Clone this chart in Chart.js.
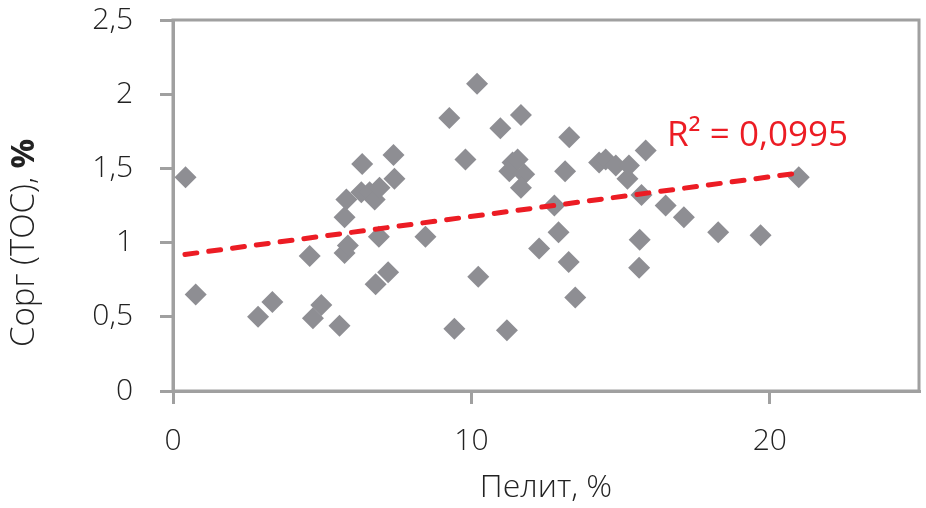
<!DOCTYPE html>
<html>
<head>
<meta charset="utf-8">
<script src="https://cdn.jsdelivr.net/npm/chart.js@4"></script>
<style>
  body { margin: 0; background: #fff; }
  canvas { display: block; }
</style>
</head>
<body>
<canvas id="chart" width="926" height="508"></canvas>
<script>
// Пелит, % (x) and Сорг (TOC), % (y)
const pelit = [
  0.42, 0.76, 2.85, 3.33, 4.58, 4.69, 4.97, 5.58, 5.75, 5.81,
  5.75, 5.86, 6.31, 6.34, 6.59, 6.76, 6.79, 6.90, 6.92, 7.21,
  7.39, 7.42, 8.46, 9.26, 9.43, 9.80, 10.19, 10.23, 10.97, 11.19,
  11.27, 11.38, 11.55, 11.66, 11.77, 11.66, 12.27, 12.78, 12.92, 13.14,
  13.26, 13.28, 13.48, 14.28, 14.50, 14.84, 15.23, 15.28, 15.62, 15.64,
  15.70, 15.84, 16.51, 17.12, 18.27, 19.69, 20.97
];
const corg = [
  1.44, 0.65, 0.50, 0.60, 0.91, 0.49, 0.58, 0.44, 1.17, 1.29,
  0.93, 0.98, 1.34, 1.53, 1.34, 1.29, 0.72, 1.04, 1.37, 0.80,
  1.59, 1.43, 1.04, 1.84, 0.42, 1.56, 2.07, 0.77, 1.77, 0.41,
  1.48, 1.54, 1.56, 1.86, 1.46, 1.37, 0.96, 1.25, 1.07, 1.48,
  0.87, 1.71, 0.63, 1.54, 1.56, 1.52, 1.43, 1.52, 0.83, 1.02,
  1.32, 1.62, 1.25, 1.17, 1.07, 1.05, 1.44
];

// linear trend line end points (as drawn in the picture)
const trendX = [0.4, 21.0];
const trendY = [0.92, 1.47];
const r2Label = "R² = 0,0995";

const yTicks = [0, 0.5, 1, 1.5, 2, 2.5];

const FONT = "'Open Sans', 'Noto Sans', sans-serif";
const GREY = "#a0a0a0";
const RED = "#ec1c24";

// frame on top and right, the R² text and the y title with bold "%"
const extras = {
  id: "extras",
  beforeDatasetsDraw(chart) {
    const { ctx, chartArea } = chart;
    ctx.save();
    ctx.strokeStyle = GREY;
    ctx.lineWidth = 3;
    ctx.strokeRect(chartArea.left, chartArea.top, chartArea.right - chartArea.left, chartArea.bottom - chartArea.top);
    ctx.restore();
  },
  afterDraw(chart) {
    const { ctx } = chart;
    ctx.save();
    ctx.fillStyle = RED;
    ctx.font = "35px " + FONT;
    ctx.textBaseline = "alphabetic";
    ctx.textAlign = "left";
    ctx.fillText(r2Label, 667, 146);

    // y title, rotated
    ctx.translate(34, 347);
    ctx.rotate(-Math.PI / 2);
    ctx.fillStyle = "#222";
    ctx.font = "300 33px " + FONT;
    const part1 = "Сорг (ТОС), ";
    ctx.fillText(part1, 0, 0);
    const w = ctx.measureText(part1).width;
    ctx.font = "bold 33px " + FONT;
    ctx.fillText("%", w, 0);
    ctx.restore();
  }
};

const points = pelit.map((x, i) => ({ x: x, y: corg[i] }));
const trend = trendX.map((x, i) => ({ x: x, y: trendY[i] }));

new Chart(document.getElementById("chart"), {
  type: "scatter",
  data: {
    datasets: [
      {
        type: "line",
        label: "trend",
        data: trend,
        borderColor: RED,
        borderWidth: 5,
        borderDash: [12, 12],
        borderCapStyle: "round",
        pointRadius: 0,
        fill: false,
        order: 0,
      },
      {
        label: "TOC",
        data: points,
        pointStyle: "rectRot",
        pointRadius: 11,
        backgroundColor: "#8e8e93",
        borderColor: "#8e8e93",
        borderWidth: 0,
        clip: false,
        order: 1,
      },
    ],
  },
  options: {
    responsive: false,
    animation: false,
    layout: { autoPadding: false, padding: { top: 20, right: 7, left: 0, bottom: 0 } },
    plugins: {
      legend: { display: false },
      tooltip: { enabled: false },
    },
    scales: {
      x: {
        type: "linear",
        min: 0,
        max: 25,
        afterFit: (scale) => {
          scale.height = 117;
          scale.paddingLeft = 0;
          scale.paddingRight = 0;
        },
        grid: { drawOnChartArea: false, drawTicks: true, tickLength: 13, color: GREY, lineWidth: 3 },
        border: { display: true, color: GREY, width: 3 },
        ticks: {
          stepSize: 10,
          includeBounds: false,
          padding: 19,
          color: "#222",
          font: { family: FONT, size: 30, weight: "300" },
          maxRotation: 0,
        },
        title: {
          display: true,
          text: "Пелит, %",
          color: "#222",
          font: { family: FONT, size: 32, weight: "300" },
          padding: { top: 0, bottom: 1 },
        },
      },
      y: {
        type: "linear",
        min: 0,
        max: 2.5,
        afterFit: (scale) => {
          scale.width = 173;
          scale.paddingTop = 0;
          scale.paddingBottom = 0;
        },
        afterBuildTicks: (scale) => { scale.ticks = yTicks.map((v) => ({ value: v })); },
        grid: { drawOnChartArea: false, drawTicks: true, tickLength: 13, color: GREY, lineWidth: 3 },
        border: { display: true, color: GREY, width: 3 },
        ticks: {
          padding: 27,
          color: "#222",
          font: { family: FONT, size: 30, weight: "300" },
          callback: (v) => String(v).replace(".", ","),
        },
      },
    },
  },
  plugins: [extras],
});
</script>
</body>
</html>
